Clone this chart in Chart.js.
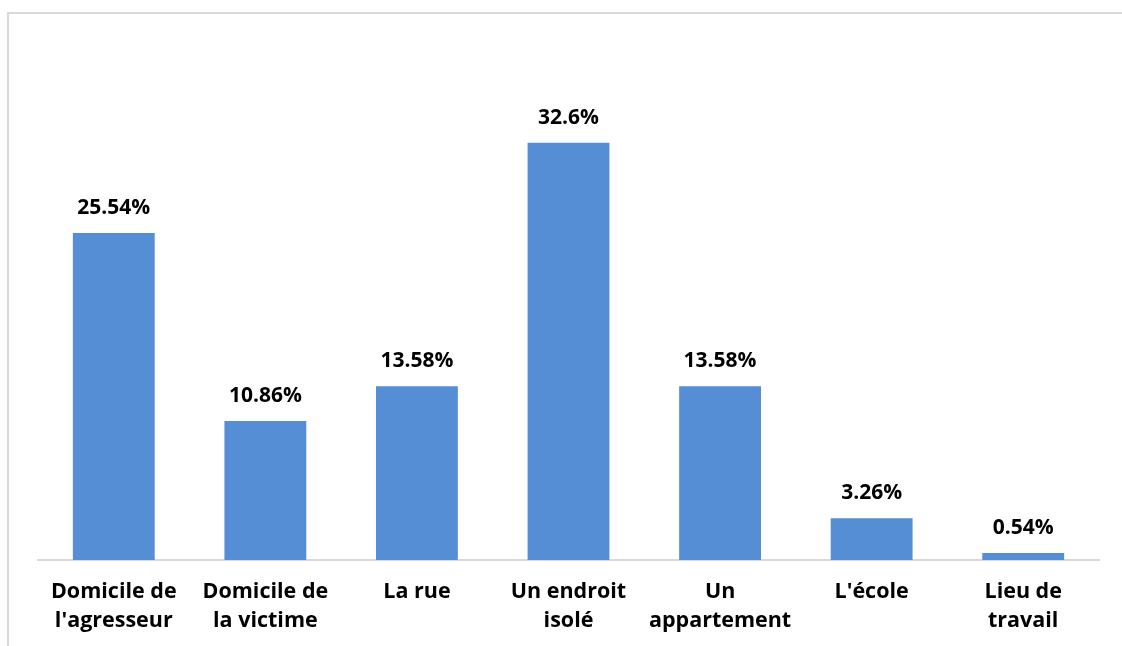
<!DOCTYPE html>
<html>
<head>
<meta charset="utf-8">
<script src="https://cdn.jsdelivr.net/npm/chart.js@4"></script>
<style>
  html, body { margin: 0; padding: 0; background: #fff; overflow: hidden; }
  #frame {
    position: absolute; left: 7px; top: 12px; width: 1115px; height: 634px;
    border-top: 2px solid #d9d9d9; border-left: 2px solid #d9d9d9;
  }
  #wrap { position: absolute; left: 0; top: 0; width: 1113px; height: 632px; }
</style>
</head>
<body>
<div id="frame"><div id="wrap"><canvas id="lieux"></canvas></div></div>
<script>
const lieux = [
  ["Domicile de", "l'agresseur"],
  ["Domicile de", "la victime"],
  "La rue",
  ["Un endroit", "isolé"],
  ["Un", "appartement"],
  "L'école",
  ["Lieu de", "travail"]
];
const pourcentages = [25.54, 10.86, 13.58, 32.6, 13.58, 3.26, 0.54];

const FONT = "'Open Sans', 'Liberation Sans', sans-serif";

// writes the percentage above each bar
const valeurs = {
  id: 'valeurs',
  afterDatasetsDraw(chart) {
    const c = chart.ctx;
    const meta = chart.getDatasetMeta(0);
    c.save();
    c.font = "700 21px " + FONT;
    c.fillStyle = '#000';
    c.textAlign = 'center';
    c.textBaseline = 'middle';
    meta.data.forEach((bar, i) => {
      c.fillText(pourcentages[i] + '%', bar.x, bar.y - 25);
    });
    c.restore();
  }
};

new Chart(document.getElementById('lieux'), {
  type: 'bar',
  data: {
    labels: lieux,
    datasets: [{
      data: pourcentages,
      backgroundColor: 'rgb(85, 142, 213)',
      categoryPercentage: 1,
      barPercentage: 0.54
    }]
  },
  options: {
    responsive: true,
    maintainAspectRatio: false,
    animation: false,
    layout: { padding: { top: 34, left: 29, right: 23, bottom: 0 } },
    plugins: { legend: { display: false }, tooltip: { enabled: false } },
    scales: {
      y: { display: false, min: 0, max: 40 },
      x: {
        grid: { display: false, drawTicks: false },
        border: { display: true, color: '#d9d9d9', width: 2 },
        ticks: {
          color: '#000',
          padding: 17,
          maxRotation: 0,
          autoSkip: false,
          font: { family: FONT, size: 21.5, weight: '700', lineHeight: 1.35 }
        },
        afterFit(scale) { scale.height = 86; }
      }
    }
  },
  plugins: [valeurs]
});
</script>
</body>
</html>
